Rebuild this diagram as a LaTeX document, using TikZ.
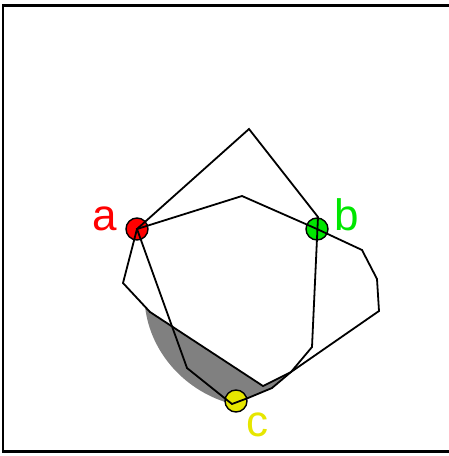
\documentclass[tikz,border=0pt]{standalone}
\usepackage{fontspec}
\setmainfont{Liberation Sans}
\definecolor{pta}{HTML}{FF0000}
\definecolor{ptb}{HTML}{00E600}
\definecolor{ptc}{HTML}{E6E600}
\definecolor{bandgray}{HTML}{808080}
\tikzset{
  pt/.style={circle,draw=black,line width=1.4pt,minimum size=22pt,inner sep=0pt},
  edge/.style={draw=black,line width=1.8pt,line join=miter},
  lab/.style={font=\fontsize{44}{44}\selectfont,anchor=base,inner sep=0pt},
}
\begin{document}
\begin{tikzpicture}[x=1pt,y=-1pt]
\useasboundingbox (0,0) rectangle (449,456);
\draw[line width=2.5pt] (452,5.5) -- (3,5.5) -- (3,451.5) -- (452,451.5);
% corner points of the two loops
\coordinate (top) at (249,129);
\coordinate (bk) at (318,217);
\coordinate (bv) at (312,347);
\coordinate (x) at (291,372);
\coordinate (v1) at (263,386);
\coordinate (v2) at (150,312);
\coordinate (v3) at (123,283);
\coordinate (m) at (242,196);
\coordinate (r1) at (362,250);
\coordinate (r2) at (377,279);
\coordinate (r3) at (379,311);
\coordinate (w1) at (272,388);
\coordinate (w2) at (248,398);
\coordinate (w3) at (232,404);
\coordinate (d) at (187,368);
% shaded band
\fill[bandgray] (145,306) .. controls (150,353) and (186,392) .. (w3) -- (w2) -- (w1) -- (x) -- (v1) -- (v2) -- cycle;
\node[pt,fill=pta] (a) at (137,229) {};
\node[pt,fill=ptb] (b) at (317,229) {};
\node[pt,fill=ptc] (c) at (236,401) {};
\draw[edge] (a.center) -- (top) -- (bk) -- (bv) -- (x) -- (v1) -- (v2) -- (v3) -- cycle;
\draw[edge] (a.center) -- (m) -- (b.center) -- (r1) -- (r2) -- (r3) -- (x) -- (w1) -- (w2) -- (w3) -- (d) -- cycle;
\node[lab,text=pta] (la) at (105,230) {a};
\node[lab,text=ptb] (lb) at (347,230) {b};
\node[lab,text=ptc] (lc) at (257,436) {c};
\end{tikzpicture}
\end{document}
